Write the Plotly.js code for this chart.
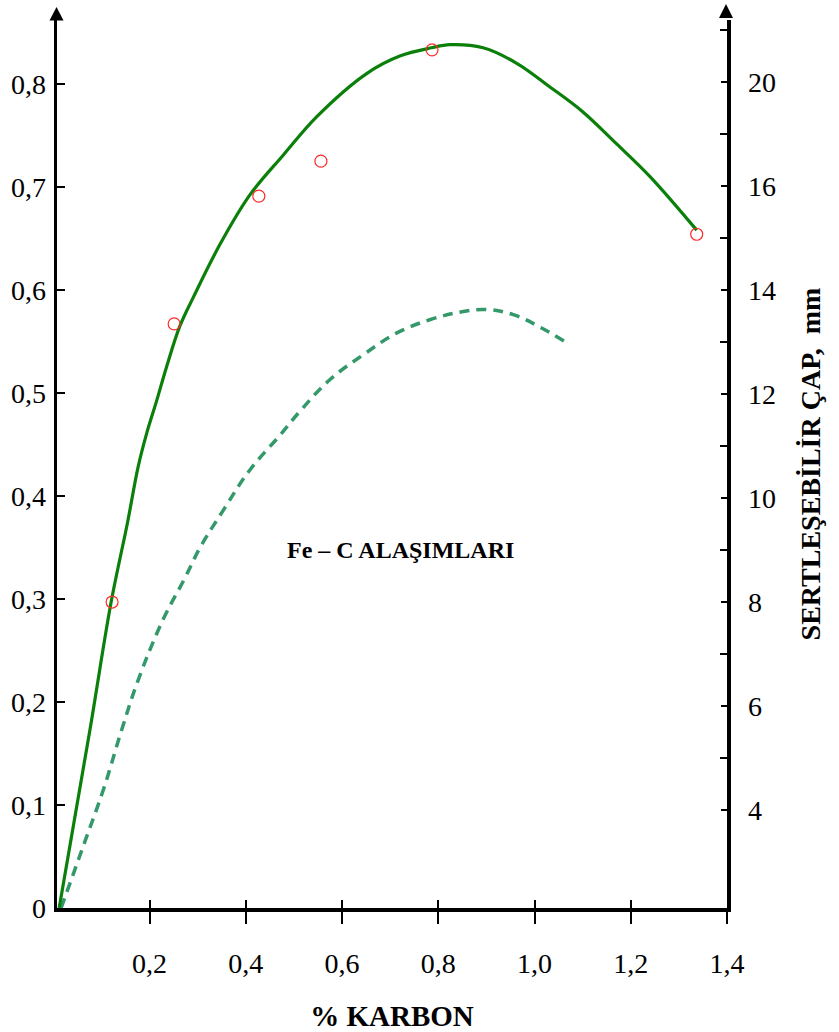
<!DOCTYPE html>
<html>
<head>
<meta charset="utf-8">
<script src="https://cdn.plot.ly/plotly-3.0.1.min.js"></script>
<style>html,body{margin:0;padding:0;background:#fff;}#chart{width:839px;height:1032px;}</style>
</head>
<body>
<div id="chart"></div>
<script>
// ---- data ----
const carbonSolid = [0.012, 0.076, 0.120, 0.154, 0.176, 0.194, 0.215, 0.235, 0.263, 0.291, 0.346, 0.408, 0.478, 0.547, 0.651, 0.720, 0.786, 0.824, 0.893, 0.963, 1.032, 1.100, 1.170, 1.240, 1.337];
const hardSolid   = [0.000, 0.173, 0.297, 0.374, 0.428, 0.461, 0.493, 0.525, 0.565, 0.593, 0.644, 0.692, 0.731, 0.768, 0.810, 0.827, 0.835, 0.838, 0.835, 0.820, 0.797, 0.773, 0.742, 0.710, 0.658];

const carbonDashed = [0.016, 0.062, 0.104, 0.142, 0.176, 0.228, 0.273, 0.305, 0.353, 0.408, 0.471, 0.512, 0.575, 0.644, 0.713, 0.782, 0.852, 0.900, 0.956, 1.011, 1.066];
const hardDashed   = [0.000, 0.060, 0.115, 0.173, 0.221, 0.280, 0.320, 0.350, 0.386, 0.425, 0.459, 0.482, 0.513, 0.537, 0.558, 0.571, 0.579, 0.581, 0.576, 0.564, 0.549];

const carbonPoints = [0.122, 0.251, 0.427, 0.556, 0.787, 1.337];
const hardPoints   = [0.297, 0.567, 0.691, 0.725, 0.833, 0.654];

const xTickVals  = [0.2, 0.4, 0.6, 0.8, 1.0, 1.2, 1.4];
const xTickText  = ['0,2', '0,4', '0,6', '0,8', '1,0', '1,2', '1,4'];
const yTickVals  = [0, 0.1, 0.2, 0.3, 0.4, 0.5, 0.6, 0.7, 0.8];
const yTickText  = ['0', '0,1', '0,2', '0,3', '0,4', '0,5', '0,6', '0,7', '0,8'];
const y2TickVals = [4, 6, 8, 10, 12, 14, 16, 18];
const y2TickText = ['4', '6', '8', '10', '12', '14', '16', '20'];
const y2MinorVals = [5, 7, 9, 11, 13, 15, 17, 19];

const xTitle  = '% KARBON';
const y2Title = 'SERTLEŞEBİLİR ÇAP,\u00a0\u00a0mm';
const label   = 'Fe – C ALAŞIMLARI';

// ---- style ----
const serif = 'Liberation Serif, Times New Roman, serif';
const xRange  = [0.0075, 1.4];
const yRange  = [0, 0.862];
const y2Range = [2.115, 19.19];

const traces = [
  { x: carbonDashed, y: hardDashed, mode: 'lines', type: 'scatter',
    line: { color: '#34996a', width: 3.5, dash: '10px,7px', shape: 'spline', smoothing: 1.1 },
    hoverinfo: 'skip', showlegend: false },
  { x: carbonSolid, y: hardSolid, mode: 'lines', type: 'scatter',
    line: { color: '#0a800a', width: 3.2, shape: 'spline', smoothing: 1.0 },
    hoverinfo: 'skip', showlegend: false },
  { x: carbonPoints, y: hardPoints, mode: 'markers', type: 'scatter',
    marker: { symbol: 'circle-open', size: 12, color: '#ff2a2a', line: { width: 1.2, color: '#ff2a2a' } },
    hoverinfo: 'skip', showlegend: false },
  { x: [], y: [], xaxis: 'x2', yaxis: 'y', type: 'scatter', showlegend: false },
  { x: [], y: [], xaxis: 'x', yaxis: 'y2', type: 'scatter', showlegend: false },
  { x: [], y: [], xaxis: 'x', yaxis: 'y3', type: 'scatter', showlegend: false }
];

const layout = {
  width: 839, height: 1032,
  margin: { l: 57, r: 112, t: 20, b: 124 },
  paper_bgcolor: '#ffffff', plot_bgcolor: '#ffffff',
  font: { family: serif, color: '#000' },
  showlegend: false,
  xaxis: {
    range: xRange, tickmode: 'array', tickvals: xTickVals, ticktext: xTickText,
    ticks: 'outside', ticklen: 12, tickwidth: 2, tickcolor: '#000',
    showline: true, linewidth: 3.5, linecolor: '#000',
    showgrid: false, zeroline: false,
    tickfont: { family: serif, size: 28, color: '#000' },
    ticklabelstandoff: 16,
    title: { text: xTitle, font: { family: serif, size: 29, color: '#000', weight: 'bold' }, standoff: 30 }
  },
  xaxis2: {
    overlaying: 'x', anchor: 'y', side: 'bottom', range: xRange,
    tickmode: 'array', tickvals: xTickVals, ticks: 'inside', ticklen: 8, tickwidth: 2, tickcolor: '#000',
    showticklabels: false, showline: false, showgrid: false, zeroline: false
  },
  yaxis: {
    range: yRange, tickmode: 'array', tickvals: yTickVals, ticktext: yTickText,
    ticks: 'inside', ticklen: 8, tickwidth: 2, tickcolor: '#000',
    showline: true, linewidth: 3.5, linecolor: '#000',
    showgrid: false, zeroline: false,
    tickfont: { family: serif, size: 28, color: '#000' },
    ticklabelstandoff: 2
  },
  yaxis2: {
    overlaying: 'y', side: 'right', anchor: 'x', range: y2Range,
    tickmode: 'array', tickvals: y2TickVals, ticktext: y2TickText,
    ticks: 'inside', ticklen: 6, tickwidth: 2, tickcolor: '#000',
    minor: { tickmode: 'array', tickvals: y2MinorVals, ticks: 'inside', ticklen: 7, tickwidth: 2, tickcolor: '#000' },
    showline: true, linewidth: 3.5, linecolor: '#000',
    showgrid: false, zeroline: false,
    tickfont: { family: serif, size: 28, color: '#000' },
    ticklabelstandoff: 12,
    title: { text: y2Title, font: { family: serif, size: 28, color: '#000', weight: 'bold' }, standoff: 26 }
  },
  yaxis3: {
    overlaying: 'y', side: 'right', anchor: 'x', range: y2Range,
    tickmode: 'array', tickvals: y2TickVals, ticks: 'outside', ticklen: 3, tickwidth: 2, tickcolor: '#000',
    showticklabels: false, showline: false, showgrid: false, zeroline: false
  },
  annotations: [
    { text: label, xref: 'paper', yref: 'paper', x: 0.513, y: 0.403, xanchor: 'center', yanchor: 'middle',
      showarrow: false, font: { family: serif, size: 24, color: '#000', weight: 'bold' } }
  ],
  shapes: [
    { type: 'path', xref: 'paper', yref: 'paper', path: 'M -0.0112,0.9995 L 0.0097,0.9995 L -0.0007,1.0146 Z',
      fillcolor: '#000', line: { width: 0 } },
    { type: 'path', xref: 'paper', yref: 'paper', path: 'M 0.9881,1.0023 L 1.0090,1.0023 L 0.9985,1.0180 Z',
      fillcolor: '#000', line: { width: 0 } }
  ]
};

Plotly.newPlot('chart', traces, layout, { staticPlot: true, displayModeBar: false });
</script>
</body>
</html>
